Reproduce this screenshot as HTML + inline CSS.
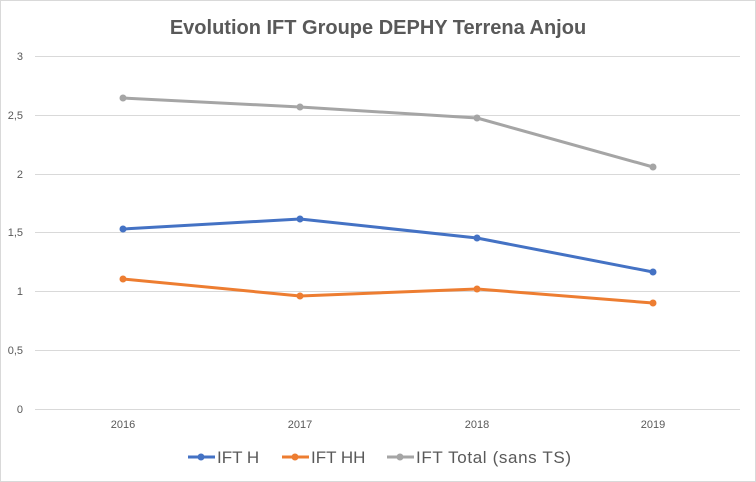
<!DOCTYPE html>
<html><head><meta charset="utf-8"><style>
body{margin:0;background:#fff;}
svg{display:block;font-family:"Liberation Sans",sans-serif;}
</style></head><body>
<svg width="756" height="482" viewBox="0 0 756 482" xmlns="http://www.w3.org/2000/svg">
<rect x="0.5" y="0.5" width="755" height="481" fill="#fff" stroke="#d9d9d9"/>
<text x="378" y="34" text-anchor="middle" font-size="20" font-weight="bold" fill="#595959">Evolution IFT Groupe DEPHY Terrena Anjou</text>
<g stroke="#d9d9d9" stroke-width="1">
<line x1="35" x2="740" y1="56.5" y2="56.5"/>
<line x1="35" x2="740" y1="115.5" y2="115.5"/>
<line x1="35" x2="740" y1="174.5" y2="174.5"/>
<line x1="35" x2="740" y1="232.5" y2="232.5"/>
<line x1="35" x2="740" y1="291.5" y2="291.5"/>
<line x1="35" x2="740" y1="350.5" y2="350.5"/>
<line x1="35" x2="740" y1="409.5" y2="409.5"/>
</g>
<g font-size="11" fill="#595959" text-anchor="end">
<text x="23" y="60">3</text><text x="23" y="119">2,5</text><text x="23" y="178">2</text>
<text x="23" y="236">1,5</text><text x="23" y="295">1</text><text x="23" y="354">0,5</text><text x="23" y="413">0</text>
</g>
<g font-size="11" fill="#595959" text-anchor="middle">
<text x="123" y="428">2016</text><text x="300" y="428">2017</text><text x="477" y="428">2018</text><text x="653" y="428">2019</text>
</g>
<g fill="none" stroke-width="3" stroke-linejoin="round">
<polyline stroke="#a5a5a5" points="123,98 300,107 477,118 653,167"/>
<polyline stroke="#4472c4" points="123,229 300,219 477,238 653,272"/>
<polyline stroke="#ed7d31" points="123,279 300,296 477,289 653,303"/>
</g>
<g fill="#a5a5a5"><circle cx="123" cy="98" r="3.5"/><circle cx="300" cy="107" r="3.5"/><circle cx="477" cy="118" r="3.5"/><circle cx="653" cy="167" r="3.5"/></g>
<g fill="#4472c4"><circle cx="123" cy="229" r="3.5"/><circle cx="300" cy="219" r="3.5"/><circle cx="477" cy="238" r="3.5"/><circle cx="653" cy="272" r="3.5"/></g>
<g fill="#ed7d31"><circle cx="123" cy="279" r="3.5"/><circle cx="300" cy="296" r="3.5"/><circle cx="477" cy="289" r="3.5"/><circle cx="653" cy="303" r="3.5"/></g>
<g stroke-width="3">
<line x1="188" x2="215" y1="457" y2="457" stroke="#4472c4"/><circle cx="201" cy="457" r="3.5" fill="#4472c4"/>
<line x1="282" x2="309" y1="457" y2="457" stroke="#ed7d31"/><circle cx="295" cy="457" r="3.5" fill="#ed7d31"/>
<line x1="387" x2="414" y1="457" y2="457" stroke="#a5a5a5"/><circle cx="400" cy="457" r="3.5" fill="#a5a5a5"/>
</g>
<g font-size="17" fill="#595959">
<text x="217" y="463">IFT H</text><text x="311" y="463">IFT HH</text><text x="416" y="463" textLength="155" lengthAdjust="spacing">IFT Total (sans TS)</text>
</g>
</svg>
</body></html>
